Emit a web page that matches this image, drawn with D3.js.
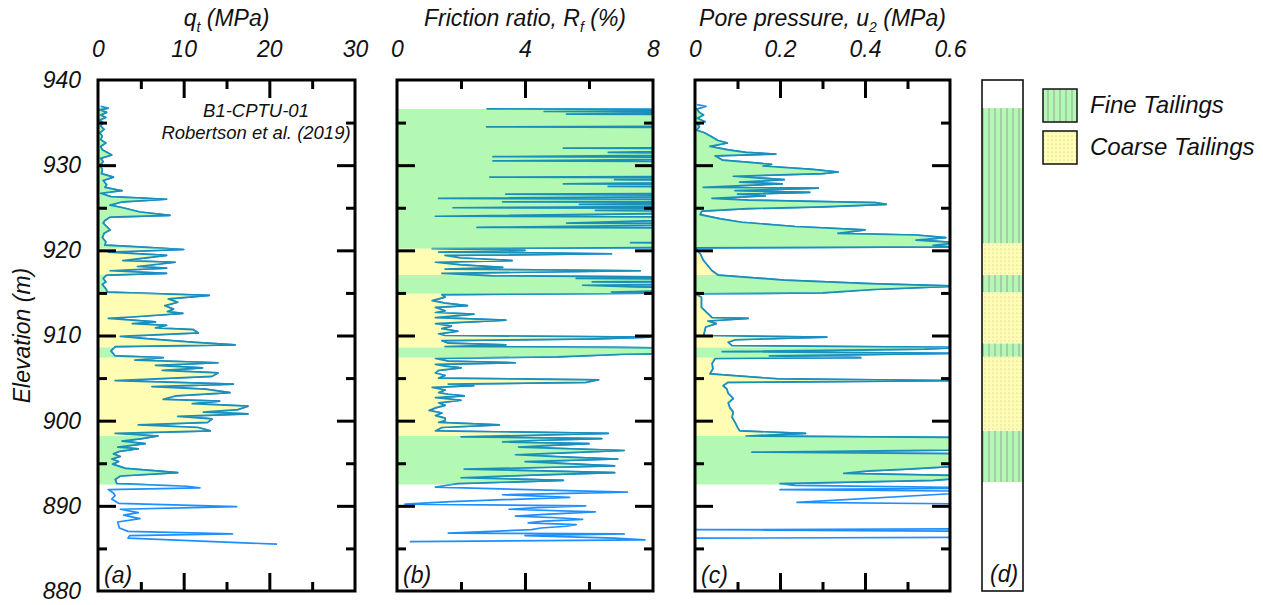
<!DOCTYPE html>
<html>
<head>
<meta charset="utf-8">
<script src="https://cdn.jsdelivr.net/npm/d3@7"></script>
<style>
    body { margin: 0; background: #fff; }
    text { font-family: "Liberation Sans", Arial, sans-serif; font-style: italic; fill: #111; }
    .tick text { font-size: 23px; }
    .tick line { stroke: #000; stroke-width: 3; }
</style>
</head>
<body>
<svg id="chart" width="1263" height="605"></svg>
<script>
(function () {
    'use strict';

    // [elevation (m), value]
    var qtData = [
        [936.9,0.3],[936.7,1.2],[936.5,0.2],[936.2,1.0],[935.9,0.3],[935.6,0.9],[935.3,0.2],[935.0,0.6],
        [934.6,0.3],[934.2,0.7],[933.8,0.2],[933.4,0.5],[933.0,0.3],[932.6,0.9],[932.2,0.3],[931.8,0.5],
        [931.2,1.6],[930.8,0.3],[930.4,0.6],[930.0,0.2],[929.5,0.5],[929.0,0.4],[928.6,1.8],[928.2,0.6],
        [927.7,1.0],[927.4,0.8],[927.0,2.8],[926.7,0.3],[926.3,1.5],[926.0,8.0],[925.7,2.9],[925.3,1.4],
        [925.0,2.9],[924.5,4.9],[924.1,8.4],[923.9,1.4],[923.5,0.8],[923.2,0.6],[922.8,1.0],[922.4,1.4],
        [922.0,0.7],[921.5,0.5],[921.0,0.9],[920.6,0.8],[920.4,4.7],[920.1,10.0],[919.8,1.2],[919.4,8.0],
        [918.8,2.9],[918.6,9.0],[918.1,4.6],[917.9,8.0],[917.6,1.4],[917.3,8.0],[917.1,1.0],[916.7,0.6],
        [916.3,0.9],[916.0,0.5],[915.5,0.9],[915.1,1.1],[914.7,13.0],[914.3,8.2],[913.9,9.3],[913.5,7.8],
        [913.1,8.8],[912.8,8.1],[912.6,9.9],[912.2,4.3],[912.0,1.2],[911.6,6.7],[911.4,4.0],[911.2,8.0],
        [910.9,6.7],[910.7,11.1],[910.3,11.7],[909.9,2.6],[909.6,5.9],[909.2,11.3],[908.9,16.0],[908.7,2.0],
        [908.2,1.5],[907.6,2.0],[907.4,7.6],[907.1,4.3],[906.8,14.0],[906.5,6.7],[906.2,12.2],[905.9,7.5],
        [905.6,14.0],[905.2,13.3],[904.7,2.0],[904.3,15.8],[904.0,6.3],[903.7,12.5],[903.3,15.4],[902.9,9.0],
        [902.5,7.6],[902.3,14.2],[902.0,11.0],[901.7,17.5],[901.3,16.3],[901.0,12.3],[900.8,17.5],[900.5,9.3],
        [900.2,13.3],[899.8,12.8],[899.5,4.7],[899.2,11.7],[898.8,13.1],[898.5,2.0],[898.2,7.0],[897.9,5.1],
        [897.6,2.8],[897.3,5.5],[896.9,2.3],[896.7,4.7],[896.4,2.5],[896.1,1.8],[895.8,2.6],[895.5,1.6],
        [895.2,2.4],[894.9,1.7],[894.4,3.2],[893.9,9.3],[893.5,2.6],[893.1,2.0],[892.6,2.2],[892.3,10.4],
        [892.1,11.9],[891.9,1.2],[891.5,1.8],[891.2,2.0],[890.8,1.6],[890.3,2.4],[889.9,16.2],[889.6,2.6],
        [889.2,4.7],[888.9,3.0],[888.5,4.9],[888.1,2.3],[887.4,2.5],[887.0,3.5],[886.7,15.7],[886.5,3.7],
        [886.2,3.5],[885.5,20.9]
    ];

    var rfData = [
        [936.6,2.8],[936.5,12],[936.3,4.6],[936.2,12],[936.0,5.3],[935.9,12],[934.6,12],[934.5,2.8],
        [934.4,12],[932.1,12],[932.0,5.2],[931.9,12],[931.5,6.6],[931.3,12],[931.0,3.0],[930.9,12],
        [930.6,6.1],[930.5,3.0],[930.4,12],[928.7,12],[928.6,2.9],[928.5,12],[928.3,6.8],[928.1,12],
        [927.8,5.2],[927.7,12],[927.5,6.6],[927.4,12],[926.7,12],[926.6,3.4],[926.4,12],[926.1,1.3],
        [926.0,7.7],[925.8,12],[925.7,3.3],[925.6,12],[925.4,5.7],[925.2,12],[925.0,1.75],[924.9,12],
        [924.7,6.2],[924.5,12],[924.0,1.2],[923.9,12],[923.2,5.3],[923.1,12],[922.7,2.5],[922.6,12],
        [921.0,12],[920.9,7.3],[920.8,12],[920.4,12],[920.2,1.1],[920.0,4.0],[919.8,1.3],[919.6,6.7],
        [919.4,1.5],[919.1,2.0],[918.8,3.6],[918.6,1.2],[918.3,2.0],[918.0,3.3],[917.8,1.5],[917.6,7.6],
        [917.3,1.4],[917.0,3.0],[916.8,12],[916.7,5.6],[916.5,12],[916.3,6.1],[916.1,12],[915.9,5.8],
        [915.7,7.4],[915.5,12],[915.3,9.0],[915.1,6.7],[915.0,9.0],[914.8,1.4],[914.5,1.5],[914.1,1.1],
        [913.8,1.5],[913.5,2.2],[913.3,1.2],[912.9,1.5],[912.7,1.2],[912.5,2.4],[912.1,1.2],[911.8,3.4],
        [911.4,1.2],[911.1,1.7],[910.8,1.4],[910.5,1.9],[910.2,1.3],[910.0,1.5],[909.8,7.9],[909.6,6.2],
        [909.4,1.4],[909.1,1.6],[908.9,3.4],[908.7,1.5],[908.6,6.8],[908.4,12],[908.2,9.0],[908.0,12],
        [907.8,7.1],[907.5,5.0],[907.3,1.2],[907.0,1.6],[906.8,3.7],[906.6,1.2],[906.4,1.5],[906.2,2.0],
        [905.9,1.3],[905.6,1.2],[905.3,1.5],[905.0,1.3],[904.8,6.3],[904.5,5.9],[904.3,1.6],[904.1,2.4],
        [903.9,1.1],[903.6,1.5],[903.3,1.3],[903.1,1.6],[902.9,2.1],[902.7,1.2],[902.4,2.0],[902.1,1.3],
        [901.8,1.5],[901.5,1.2],[901.2,1.0],[900.9,1.4],[900.6,1.2],[900.3,1.5],[900.0,1.5],[899.8,1.3],
        [899.5,3.2],[899.2,1.4],[898.8,1.2],[898.5,6.6],[898.1,2.0],[897.9,6.4],[897.7,4.5],[897.5,3.3],
        [897.3,6.0],[897.1,4.8],[896.9,3.8],[896.5,7.1],[896.2,5.0],[896.0,3.7],[895.7,5.5],[895.5,6.9],
        [895.2,4.0],[894.9,5.6],[894.7,6.8],[894.5,4.5],[894.3,2.1],[893.9,6.8],[893.6,4.2],[893.3,2.0],
        [893.0,5.2],[892.6,1.9],[892.2,1.2],[891.6,7.2],[891.3,3.3],[891.0,5.4],[890.5,1.7],[890.2,0.25],
        [890.0,5.9],[889.8,4.4],[889.6,3.5],[889.3,6.2],[889.0,4.6],[888.8,3.7],[888.6,5.0],[888.4,5.8],
        [888.2,4.6],[888.0,4.1],[887.8,5.6],[887.6,5.3],[887.4,4.5],[887.2,4.2],[886.8,1.6],[886.7,7.1],
        [886.5,4.0],[886.2,6.8],[886.0,7.75],[885.8,0.4]
    ];

    var u2Data = [
        [937.1,0.005],[936.9,0.026],[936.6,0.004],[936.2,0.01],[935.9,0.02],[935.5,0.005],[935.1,0.024],
        [934.8,0.006],[934.5,0.01],[934.1,0.004],[933.8,0.022],[933.3,0.04],[932.9,0.054],[932.6,0.076],
        [932.2,0.035],[931.8,0.078],[931.5,0.12],[931.3,0.19],[931.1,0.047],[930.6,0.064],[930.1,0.18],
        [929.9,0.16],[929.5,0.276],[929.2,0.337],[929.0,0.3],[928.7,0.09],[928.3,0.21],[928.0,0.105],
        [927.8,0.205],[927.4,0.019],[927.3,0.29],[927.0,0.094],[926.8,0.27],[926.6,0.1],[926.4,0.165],
        [926.1,0.04],[925.9,0.125],[925.6,0.424],[925.4,0.45],[925.1,0.3],[924.9,0.125],[924.6,0.016],
        [924.2,0.012],[923.7,0.06],[923.3,0.11],[922.8,0.235],[922.4,0.4],[922.0,0.336],[921.8,0.52],
        [921.5,0.59],[921.2,0.52],[920.9,0.62],[920.6,0.56],[920.4,0.6],[920.3,0.0],[919.6,0.012],
        [918.8,0.02],[917.6,0.04],[917.1,0.054],[916.5,0.21],[916.1,0.41],[915.8,0.62],[915.4,0.42],
        [915.0,0.3],[914.9,0.0],[914.5,0.015],[913.3,0.015],[912.1,0.04],[912.0,0.125],[911.7,0.03],
        [911.4,0.05],[911.0,0.025],[910.0,0.02],[909.8,0.31],[909.5,0.095],[909.2,0.078],[908.8,0.087],
        [908.6,0.62],[908.4,0.54],[908.1,0.064],[907.9,0.62],[907.6,0.175],[907.4,0.39],[907.3,0.047],
        [906.7,0.04],[906.1,0.042],[905.5,0.035],[904.9,0.195],[904.7,0.62],[904.5,0.077],[904.1,0.066],
        [903.7,0.075],[903.2,0.078],[902.6,0.09],[902.1,0.078],[901.5,0.082],[901.0,0.09],[900.4,0.087],
        [899.8,0.094],[899.2,0.1],[898.8,0.105],[898.5,0.26],[898.2,0.12],[898.0,0.7],[897.9,0.6],
        [896.8,0.6],[896.6,0.7],[896.3,0.134],[896.1,0.7],[894.9,0.7],[894.3,0.5],[894.1,0.41],
        [893.8,0.35],[893.5,0.7],[893.0,0.56],[892.6,0.2],[892.4,0.235],[892.1,0.7],[891.9,0.2],
        [891.7,0.7],[890.4,0.24],[890.2,0.7],[887.3,0.7],[887.2,0.0],[887.0,0.7],[886.3,0.7],
        [886.2,0.0],[885.9,0.0]
    ];

    // soil zones used to shade the profiles: [top, bottom, type]
    var zones = [
        [936.7, 920.2, 'fine'], [920.2, 917.1, 'coarse'], [917.1, 914.9, 'fine'],
        [914.9, 908.6, 'coarse'], [908.6, 907.4, 'fine'], [907.4, 898.2, 'coarse'],
        [898.2, 892.5, 'fine']
    ];

    // interpreted column (d)
    var columnLayers = [
        [936.7, 920.8, 'fine'], [920.8, 917.1, 'coarse'], [917.1, 915.06, 'fine'],
        [915.06, 909.06, 'coarse'], [909.06, 907.5, 'fine'], [907.5, 898.8, 'coarse'],
        [898.8, 892.8, 'fine']
    ];

    var elevLabels = [940, 930, 920, 910, 900, 890, 880];
    var elevMajor = [930, 920, 910, 900, 890];
    var elevMinor = [935, 925, 915, 905, 895, 885];

    var qtLabels = [0, 10, 20, 30];
    var rfLabels = [0, 4, 8];
    var u2Labels = [0, 0.2, 0.4, 0.6];

    var legendItems = [['fine', 'Fine Tailings'], ['coarse', 'Coarse Tailings']];

    var colors = {
        line: '#1e8fff',
        lineShaded: '#1a8fb8',
        fine: '#b3f8b3',
        coarse: '#fffcb4'
    };

    var top = 80, bottom = 591;
    var y = d3.scaleLinear().domain([940, 880]).range([top, bottom]);

    var panels = [
        { key: 'a', data: qtData, domain: [0, 30], range: [98, 355], labels: qtLabels,
          major: [10, 20], minor: [5, 15, 25], title: ['q', 't', ' (MPa)'], tag: '(a)' },
        { key: 'b', data: rfData, domain: [0, 8], range: [397, 653], labels: rfLabels,
          major: [4], minor: [2, 6], title: ['Friction ratio, R', 'f', ' (%)'], tag: '(b)' },
        { key: 'c', data: u2Data, domain: [0, 0.6], range: [695, 950], labels: u2Labels,
          major: [0.2, 0.4], minor: [0.1, 0.3, 0.5], title: ['Pore pressure, u', '2', ' (MPa)'], tag: '(c)' }
    ];

    var svg = d3.select('#chart');
    var defs = svg.append('defs');

    // patterns for the column and legend
    var fineP = defs.append('pattern').attr('id', 'pat-fine')
        .attr('patternUnits', 'userSpaceOnUse').attr('width', 6).attr('height', 10);
    fineP.append('rect').attr('width', 6).attr('height', 10).attr('fill', colors.fine);
    fineP.append('line').attr('x1', 5).attr('x2', 5).attr('y1', 0).attr('y2', 10)
        .attr('stroke', '#9aa59a').attr('stroke-width', 1);

    var coarseP = defs.append('pattern').attr('id', 'pat-coarse')
        .attr('patternUnits', 'userSpaceOnUse').attr('width', 4).attr('height', 4);
    coarseP.append('rect').attr('width', 4).attr('height', 4).attr('fill', colors.coarse);
    coarseP.append('circle').attr('cx', 1).attr('cy', 1).attr('r', 0.6).attr('fill', '#c2c09a');

    function noDomain(g) { g.select('.domain').remove(); }

    panels.forEach(function (p) {
        var x = d3.scaleLinear().domain(p.domain).range(p.range);
        var w = p.range[1] - p.range[0];
        var g = svg.append('g').attr('class', 'panel-' + p.key);

        defs.append('clipPath').attr('id', 'clip-' + p.key)
            .append('rect').attr('x', p.range[0]).attr('y', top)
            .attr('width', w).attr('height', bottom - top);

        var line = d3.line().x(function (d) { return x(d[1]); }).y(function (d) { return y(d[0]); });
        var area = d3.area().y(function (d) { return y(d[0]); })
            .x0(x(0)).x1(function (d) { return x(d[1]); });

        var plot = g.append('g').attr('clip-path', 'url(#clip-' + p.key + ')');

        plot.append('path').datum(p.data)
            .attr('d', line)
            .attr('fill', 'none')
            .attr('stroke', colors.line)
            .attr('stroke-width', 1.7)
            .attr('stroke-linejoin', 'round');

        zones.forEach(function (z, i) {
            var id = 'zone-' + p.key + i;
            defs.append('clipPath').attr('id', id)
                .append('rect').attr('x', p.range[0]).attr('y', y(z[0]))
                .attr('width', w).attr('height', y(z[1]) - y(z[0]));
            var zg = plot.append('g').attr('clip-path', 'url(#' + id + ')');
            zg.append('path').datum(p.data)
                .attr('d', area)
                .attr('fill', colors[z[2]]);
            // the trace seen through the shading turns teal
            zg.append('path').datum(p.data)
                .attr('d', line)
                .attr('fill', 'none')
                .attr('stroke', colors.lineShaded)
                .attr('stroke-width', 1.7)
                .attr('stroke-linejoin', 'round');
        });

        // tick marks, inside the frame
        g.append('g').attr('transform', 'translate(0,' + top + ')')
            .call(d3.axisBottom(x).tickValues(p.major).tickSize(18).tickFormat('')).call(noDomain);
        g.append('g').attr('transform', 'translate(0,' + top + ')')
            .call(d3.axisBottom(x).tickValues(p.minor).tickSize(9).tickFormat('')).call(noDomain);
        g.append('g').attr('transform', 'translate(0,' + bottom + ')')
            .call(d3.axisTop(x).tickValues(p.major).tickSize(18).tickFormat('')).call(noDomain);
        g.append('g').attr('transform', 'translate(0,' + bottom + ')')
            .call(d3.axisTop(x).tickValues(p.minor).tickSize(9).tickFormat('')).call(noDomain);

        g.append('g').attr('transform', 'translate(' + p.range[0] + ',0)')
            .call(d3.axisRight(y).tickValues(elevMajor).tickSize(18).tickFormat('')).call(noDomain);
        g.append('g').attr('transform', 'translate(' + p.range[0] + ',0)')
            .call(d3.axisRight(y).tickValues(elevMinor).tickSize(9).tickFormat('')).call(noDomain);
        g.append('g').attr('transform', 'translate(' + p.range[1] + ',0)')
            .call(d3.axisLeft(y).tickValues(elevMajor).tickSize(18).tickFormat('')).call(noDomain);
        g.append('g').attr('transform', 'translate(' + p.range[1] + ',0)')
            .call(d3.axisLeft(y).tickValues(elevMinor).tickSize(9).tickFormat('')).call(noDomain);

        // top labels
        g.append('g').attr('transform', 'translate(0,' + top + ')')
            .call(d3.axisTop(x).tickValues(p.labels).tickSize(0).tickPadding(23)
                .tickFormat(d3.format('~g')))
            .call(noDomain)
            .attr('font-family', null).attr('font-size', null);

        g.append('rect')
            .attr('x', p.range[0]).attr('y', top)
            .attr('width', w).attr('height', bottom - top)
            .attr('fill', 'none').attr('stroke', '#000').attr('stroke-width', 3);

        var title = g.append('text')
            .attr('x', (p.range[0] + p.range[1]) / 2).attr('y', 26)
            .attr('text-anchor', 'middle').style('font-size', '23px');
        title.append('tspan').text(p.title[0]);
        title.append('tspan').attr('dy', 6).style('font-size', '14px').text(p.title[1]);
        title.append('tspan').attr('dy', -6).text(p.title[2]);

        g.append('text')
            .attr('x', p.range[0] + 6).attr('y', 583)
            .style('font-size', '23px').text(p.tag);
    });

    // elevation labels
    svg.append('g').attr('transform', 'translate(98,0)')
        .call(d3.axisLeft(y).tickValues(elevLabels).tickSize(0).tickPadding(17))
        .call(noDomain)
        .attr('font-family', null).attr('font-size', null);

    svg.append('text')
        .attr('transform', 'translate(30,' + ((top + bottom) / 2) + ') rotate(-90)')
        .attr('text-anchor', 'middle').style('font-size', '23px')
        .text('Elevation (m)');

    svg.append('text').attr('x', 256).attr('y', 117).attr('text-anchor', 'middle')
        .style('font-size', '18.5px').text('B1-CPTU-01');
    svg.append('text').attr('x', 256).attr('y', 139).attr('text-anchor', 'middle')
        .style('font-size', '18.5px').text('Robertson et al. (2019)');

    // column (d)
    var col = svg.append('g');
    var colX = 982, colW = 41;
    col.selectAll('rect.layer').data(columnLayers).enter().append('rect')
        .attr('class', 'layer')
        .attr('x', colX).attr('width', colW)
        .attr('y', function (d) { return y(d[0]); })
        .attr('height', function (d) { return y(d[1]) - y(d[0]); })
        .attr('fill', function (d) { return 'url(#pat-' + d[2] + ')'; });
    col.append('rect')
        .attr('x', colX).attr('y', top).attr('width', colW).attr('height', bottom - top)
        .attr('fill', 'none').attr('stroke', '#111').attr('stroke-width', 1.6);
    col.append('text').attr('x', colX + 8).attr('y', 582)
        .style('font-size', '23px').text('(d)');

    // legend
    var legend = svg.append('g').attr('transform', 'translate(1043,89)');
    var item = legend.selectAll('g').data(legendItems).enter().append('g')
        .attr('transform', function (d, i) { return 'translate(0,' + (i * 42) + ')'; });
    item.append('rect').attr('width', 34).attr('height', 33)
        .attr('fill', function (d) { return 'url(#pat-' + d[0] + ')'; })
        .attr('stroke', '#111').attr('stroke-width', 1.5);
    item.append('text').attr('x', 47).attr('y', 24)
        .style('font-size', '24px').text(function (d) { return d[1]; });
}());
</script>
</body>
</html>
